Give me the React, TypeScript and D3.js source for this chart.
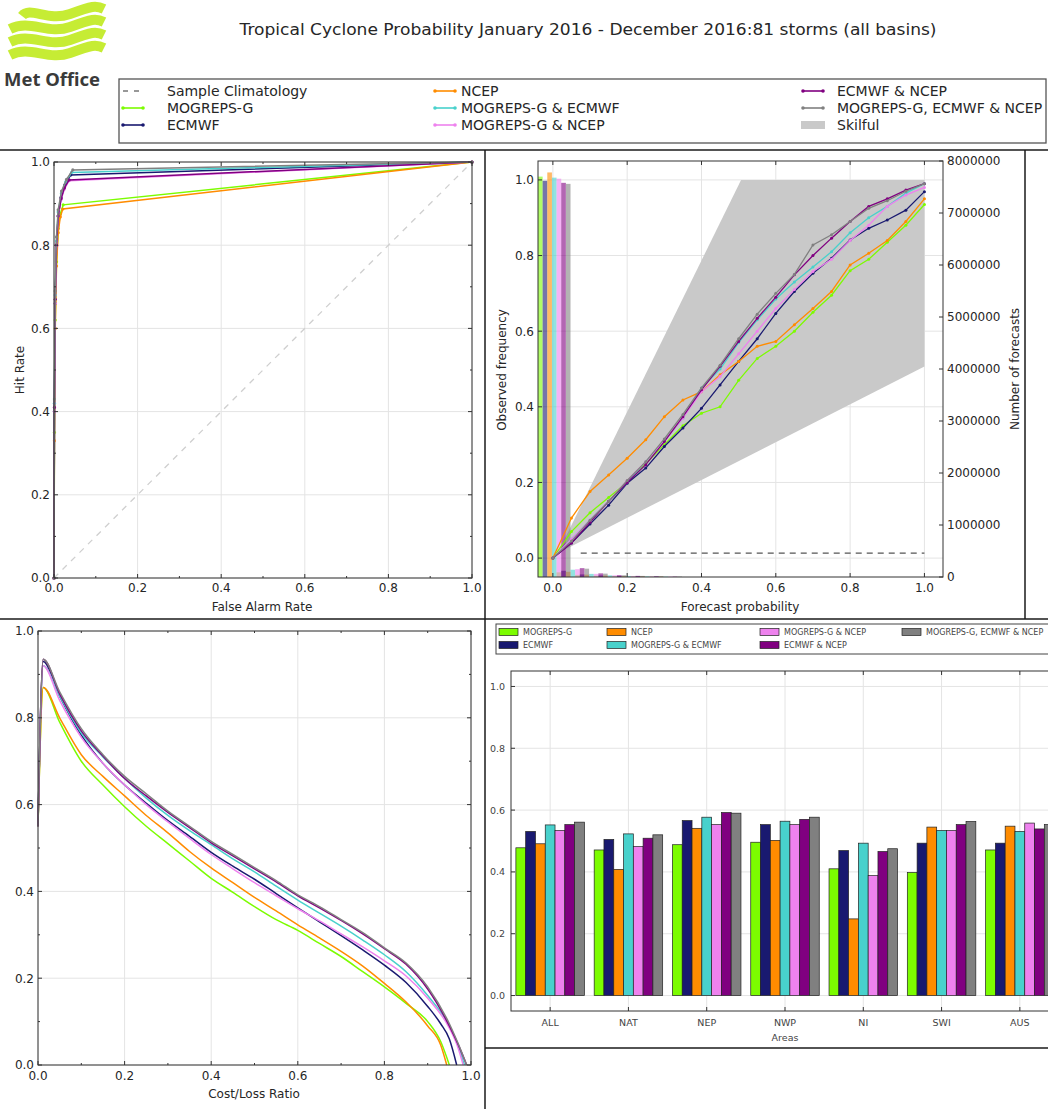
import React from "react";
import * as d3 from "d3";

const W = 1048;
const H = 1109;
const FONT = "DejaVu Sans, Verdana, sans-serif";
const TXT = "#262626";

const titleText = "Tropical Cyclone Probability January 2016 - December 2016:81 storms (all basins)";

const seriesNames = [
  "MOGREPS-G",
  "ECMWF",
  "NCEP",
  "MOGREPS-G & ECMWF",
  "MOGREPS-G & NCEP",
  "ECMWF & NCEP",
  "MOGREPS-G, ECMWF & NCEP",
];
const seriesColors = ["#7cfc00", "#191970", "#ff8c00", "#48d1cc", "#ee82ee", "#800080", "#808080"];

// ---------- ROC ----------
const rocFalseAlarm = [
  [0, 0.001, 0.003, 0.006, 0.01, 0.015, 0.022, 1],
  [0, 0.001, 0.003, 0.006, 0.01, 0.017, 0.026, 0.04, 1],
  [0, 0.001, 0.003, 0.006, 0.01, 0.015, 0.021, 1],
  [0, 0.001, 0.003, 0.006, 0.01, 0.018, 0.028, 0.042, 1],
  [0, 0.001, 0.003, 0.006, 0.01, 0.017, 0.025, 0.036, 1],
  [0, 0.001, 0.003, 0.006, 0.01, 0.017, 0.025, 0.036, 1],
  [0, 0.001, 0.003, 0.006, 0.01, 0.018, 0.03, 0.045, 1],
];
const rocHitRate = [
  [0, 0.35, 0.62, 0.76, 0.84, 0.875, 0.897, 1],
  [0, 0.4, 0.66, 0.8, 0.87, 0.915, 0.945, 0.969, 1],
  [0, 0.33, 0.6, 0.75, 0.83, 0.868, 0.887, 1],
  [0, 0.42, 0.68, 0.81, 0.88, 0.925, 0.952, 0.975, 1],
  [0, 0.4, 0.66, 0.8, 0.87, 0.91, 0.935, 0.955, 1],
  [0, 0.41, 0.67, 0.8, 0.87, 0.912, 0.938, 0.957, 1],
  [0, 0.43, 0.69, 0.82, 0.885, 0.93, 0.958, 0.981, 1],
];
const unitTicks = [0, 0.2, 0.4, 0.6, 0.8, 1.0];
const unitMinor = [0.1, 0.3, 0.5, 0.7, 0.9];

// ---------- Reliability ----------
const relProbability = [0, 0.05, 0.1, 0.15, 0.2, 0.25, 0.3, 0.35, 0.4, 0.45, 0.5, 0.55, 0.6, 0.65, 0.7, 0.75, 0.8, 0.85, 0.9, 0.95, 1.0];
const relObserved = [
  [0, 0.07, 0.12, 0.16, 0.2, 0.25, 0.3, 0.35, 0.383, 0.4, 0.47, 0.528, 0.56, 0.6, 0.65, 0.695, 0.76, 0.79, 0.835, 0.88, 0.935],
  [0, 0.04, 0.09, 0.14, 0.198, 0.238, 0.295, 0.344, 0.396, 0.458, 0.52, 0.58, 0.647, 0.705, 0.753, 0.793, 0.841, 0.872, 0.894, 0.92, 0.969],
  [0, 0.106, 0.176, 0.22, 0.264, 0.313, 0.374, 0.418, 0.44, 0.485, 0.52, 0.56, 0.573, 0.617, 0.66, 0.705, 0.775, 0.806, 0.84, 0.89, 0.95],
  [0, 0.05, 0.1, 0.15, 0.2, 0.255, 0.31, 0.37, 0.45, 0.5, 0.57, 0.63, 0.685, 0.73, 0.77, 0.81, 0.86, 0.9, 0.93, 0.965, 0.99],
  [0, 0.05, 0.1, 0.15, 0.205, 0.255, 0.31, 0.37, 0.44, 0.48, 0.54, 0.6, 0.66, 0.71, 0.758, 0.79, 0.84, 0.88, 0.93, 0.96, 0.98],
  [0, 0.04, 0.095, 0.15, 0.2, 0.247, 0.308, 0.374, 0.445, 0.507, 0.573, 0.634, 0.69, 0.749, 0.8, 0.846, 0.89, 0.93, 0.95, 0.973, 0.99],
  [0, 0.045, 0.1, 0.15, 0.205, 0.255, 0.315, 0.38, 0.45, 0.51, 0.58, 0.645, 0.7, 0.75, 0.828, 0.855, 0.89, 0.925, 0.945, 0.97, 0.99],
];
const sampleClimatology = 0.013;
const histBins = [0, 0.05, 0.1, 0.15, 0.2, 0.25, 0.3];
const histCounts = [
  [7700000, 90000, 40000, 25000, 15000, 10000, 6000],
  [7620000, 120000, 50000, 30000, 18000, 12000, 8000],
  [7780000, 100000, 45000, 28000, 16000, 11000, 7000],
  [7680000, 140000, 60000, 32000, 20000, 13000, 8000],
  [7660000, 150000, 60000, 33000, 20000, 13000, 8000],
  [7580000, 170000, 70000, 36000, 22000, 14000, 9000],
  [7560000, 160000, 65000, 34000, 21000, 13000, 8000],
];
const relXTicks = [0, 0.2, 0.4, 0.6, 0.8, 1.0];
const countTicks = [0, 1000000, 2000000, 3000000, 4000000, 5000000, 6000000, 7000000, 8000000];

// ---------- Cost / Loss ----------
const clRatio = [0, 0.012, 0.05, 0.1, 0.15, 0.2, 0.25, 0.3, 0.35, 0.4, 0.45, 0.5, 0.55, 0.6, 0.65, 0.7, 0.75, 0.8, 0.85, 0.9];
const clValue = [
  [0.55, 0.87, 0.79, 0.7, 0.645, 0.595, 0.55, 0.51, 0.47, 0.43, 0.398, 0.365, 0.335, 0.31, 0.28, 0.25, 0.215, 0.18, 0.142, 0.1],
  [0.55, 0.93, 0.85, 0.76, 0.695, 0.645, 0.603, 0.563, 0.527, 0.49, 0.458, 0.428, 0.395, 0.362, 0.33, 0.298, 0.265, 0.23, 0.19, 0.135],
  [0.55, 0.87, 0.8, 0.715, 0.665, 0.62, 0.575, 0.535, 0.492, 0.454, 0.42, 0.386, 0.355, 0.323, 0.293, 0.262, 0.228, 0.188, 0.145, 0.09],
  [0.55, 0.92, 0.85, 0.765, 0.71, 0.66, 0.615, 0.575, 0.54, 0.508, 0.475, 0.445, 0.412, 0.38, 0.35, 0.32, 0.288, 0.254, 0.215, 0.16],
  [0.55, 0.92, 0.84, 0.755, 0.695, 0.645, 0.6, 0.56, 0.522, 0.485, 0.452, 0.42, 0.39, 0.36, 0.332, 0.302, 0.272, 0.24, 0.205, 0.154],
  [0.55, 0.935, 0.855, 0.77, 0.712, 0.66, 0.62, 0.582, 0.547, 0.512, 0.482, 0.452, 0.422, 0.39, 0.362, 0.333, 0.302, 0.268, 0.232, 0.175],
  [0.55, 0.935, 0.86, 0.775, 0.715, 0.665, 0.625, 0.585, 0.55, 0.515, 0.485, 0.455, 0.425, 0.392, 0.365, 0.335, 0.305, 0.27, 0.235, 0.18],
];
const clTailRatio = [
  [0.93, 0.95],
  [0.93, 0.95, 0.967],
  [0.93, 0.944],
  [0.95, 0.97, 0.985],
  [0.95, 0.97, 0.982],
  [0.95, 0.97, 0.99],
  [0.95, 0.97, 0.99],
];
const clTailValue = [
  [0.054, 0],
  [0.095, 0.06, 0],
  [0.046, 0],
  [0.09, 0.045, 0],
  [0.085, 0.04, 0],
  [0.09, 0.048, 0],
  [0.095, 0.05, 0],
];

// ---------- Areas ----------
const areas = ["ALL", "NAT", "NEP", "NWP", "NI", "SWI", "AUS"];
const areaScores = [
  [0.478, 0.471, 0.488, 0.496, 0.41, 0.398, 0.471],
  [0.531, 0.505, 0.566, 0.553, 0.469, 0.493, 0.493],
  [0.491, 0.408, 0.541, 0.502, 0.248, 0.545, 0.548],
  [0.552, 0.523, 0.577, 0.564, 0.493, 0.534, 0.531],
  [0.534, 0.482, 0.553, 0.553, 0.388, 0.534, 0.558],
  [0.553, 0.509, 0.592, 0.57, 0.466, 0.553, 0.539],
  [0.561, 0.52, 0.59, 0.577, 0.475, 0.563, 0.553],
];
const barYTicks = [0, 0.2, 0.4, 0.6, 0.8, 1.0];

type Lin = d3.ScaleLinear<number, number>;

function grid(xs: Lin, ys: Lin, xt: number[], yt: number[], key: string) {
  const [l, r] = xs.range();
  const [b, t] = ys.range();
  return (
    <g key={key} stroke="#e4e4e4" strokeWidth={1}>
      {xt.map((v) => (
        <line key={"gx" + v} x1={xs(v)} x2={xs(v)} y1={t} y2={b} />
      ))}
      {yt.map((v) => (
        <line key={"gy" + v} x1={l} x2={r} y1={ys(v)} y2={ys(v)} />
      ))}
    </g>
  );
}

function frame(xs: Lin, ys: Lin, xt: number[], yt: number[], key: string, xm: number[] = [], ym: number[] = [], rightTicks = true) {
  const [l, r] = xs.range();
  const [b, t] = ys.range();
  const els: any[] = [];
  const add = (v: number, len: number, axis: "x" | "y") => {
    if (axis === "x") {
      const px = xs(v);
      els.push(<line key={"b" + v + len} x1={px} x2={px} y1={b} y2={b - len} />);
      els.push(<line key={"t" + v + len} x1={px} x2={px} y1={t} y2={t + len} />);
    } else {
      const py = ys(v);
      els.push(<line key={"l" + v + len} x1={l} x2={l + len} y1={py} y2={py} />);
      if (rightTicks) els.push(<line key={"r" + v + len} x1={r} x2={r - len} y1={py} y2={py} />);
    }
  };
  xt.forEach((v) => add(v, 4, "x"));
  yt.forEach((v) => add(v, 4, "y"));
  xm.forEach((v) => add(v, 2, "x"));
  ym.forEach((v) => add(v, 2, "y"));
  return (
    <g key={key} stroke="#333" strokeWidth={1} fill="none">
      {els}
      <rect x={l} y={t} width={r - l} height={b - t} />
    </g>
  );
}

function xLabels(xs: Lin, ticks: number[], y: number, size = 12, fmt = (v: number) => v.toFixed(1), fill = TXT) {
  return ticks.map((v) => (
    <text key={"xl" + v} x={xs(v)} y={y} textAnchor="middle" fontSize={size} fill={fill}>
      {fmt(v)}
    </text>
  ));
}
function yLabels(ys: Lin, ticks: number[], x: number, size = 12, anchor = "end", fmt = (v: number) => v.toFixed(1), fill = TXT) {
  return ticks.map((v) => (
    <text key={"yl" + v} x={x} y={ys(v)} dy="0.36em" textAnchor={anchor} fontSize={size} fill={fill}>
      {fmt(v)}
    </text>
  ));
}

export default function App() {
  // ROC
  const rocX = d3.scaleLinear().domain([0, 1]).range([54, 472]);
  const rocY = d3.scaleLinear().domain([0, 1]).range([578, 162]);
  // reliability
  const relX = d3.scaleLinear().domain([-0.04, 1.05]).range([538, 943]);
  const relY = d3.scaleLinear().domain([-0.05, 1.05]).range([577, 161]);
  const cntY = d3.scaleLinear().domain([0, 8000000]).range([577, 161]);
  // cost loss
  const clX = d3.scaleLinear().domain([0, 1]).range([38, 471]);
  const clY = d3.scaleLinear().domain([0, 1]).range([1065, 631]);
  // bars
  const barX = d3.scaleLinear().domain([-0.5, 6.5]).range([511, 1059]);
  const barY = d3.scaleLinear().domain([-0.05, 1.05]).range([1011, 671]);

  const rocLine = (i: number) =>
    d3.line<number>().x((d) => rocX(d)).y((_, j) => rocY(rocHitRate[i][j]))(rocFalseAlarm[i]) || "";
  const relLine = (i: number) =>
    d3.line<number>().x((d) => relX(d)).y((_, j) => relY(relObserved[i][j]))(relProbability) || "";
  const clLine = (i: number) => {
    const pts: [number, number][] = clRatio.map((r, j) => [r, clValue[i][j]]);
    clTailRatio[i].forEach((r, j) => pts.push([r, clTailValue[i][j]]));
    return d3.line<[number, number]>().x((d) => clX(d[0])).y((d) => clY(d[1])).curve(d3.curveMonotoneX)(pts) || "";
  };

  const skillPoly: [number, number][] = [
    [sampleClimatology, sampleClimatology],
    [0.5 + sampleClimatology / 2, 1],
    [1, 1],
    [1, (1 + sampleClimatology) / 2],
  ];
  const skillPath = d3.line<[number, number]>().x((d) => relX(d[0])).y((d) => relY(d[1]))(skillPoly) + "Z";

  const histW = 0.0125;
  const barW = 1 / 8;

  const legendCols = [
    { x: 123, tx: 167, items: [-1, 0, 1] },
    { x: 435, tx: 461, items: [2, 3, 4] },
    { x: 803, tx: 837, items: [5, 6, -2] },
  ];
  const legendRows = [91, 108, 125];

  const barLegendCols = [
    { x: 499, items: [0, 1] },
    { x: 607, items: [2, 3] },
    { x: 760, items: [4, 5] },
    { x: 902, items: [6] },
  ];
  const barLegendRows = [632, 645];
  const BARTXT = "#444";

  return (
    <svg width={W} height={H} style={{ position: "absolute", left: 0, top: 0, display: "block", background: "#fff" }} fontFamily={FONT}>
      <rect x={0} y={0} width={W} height={H} fill="#fff" />
      {/* Logo */}
      <g fill="none" stroke="#c6ec34" strokeWidth={10}>
        {[0, 1, 2, 3].map((i) => {
          const b = 13 + i * 13;
          return (
            <path
              key={"rib" + i}
              d={`M${10 + (i === 0 ? 12 : 0)},${b + 3} C30,${b - 7} 48,${b + 9} 70,${b + 1} S96,${b - 8} 104,${b - 4}`}
            />
          );
        })}
      </g>
      <text x={4} y={86} fontFamily="Noto Sans, DejaVu Sans, sans-serif" fontWeight="bold" fontSize={17} fill="#3a3a3a" textLength={96} lengthAdjust="spacingAndGlyphs">
        Met Office
      </text>
      {/* Title */}
      <text x={588} y={35} textAnchor="middle" fontSize={16} fill={TXT} textLength={697} lengthAdjust="spacingAndGlyphs">
        {titleText}
      </text>

      {/* Top legend */}
      <rect x={119} y={79} width={927} height={64} fill="#fff" stroke="#555" strokeWidth={1.3} />
      {legendCols.map((c, ci) =>
        c.items.map((it, ri) => {
          const cy = legendRows[ri];
          let marker;
          let label;
          if (it === -1) {
            marker = <line x1={c.x} x2={c.x + 20} y1={cy} y2={cy} stroke="#777" strokeWidth={1.4} strokeDasharray="5,6" />;
            label = "Sample Climatology";
          } else if (it === -2) {
            marker = <rect x={c.x - 2} y={cy - 4} width={24} height={8} fill="#c9c9c9" />;
            label = "Skilful";
          } else {
            marker = (
              <g>
                <line x1={c.x} x2={c.x + 20} y1={cy} y2={cy} stroke={seriesColors[it]} strokeWidth={1.6} />
                <circle cx={c.x} cy={cy} r={1.8} fill={seriesColors[it]} />
                <circle cx={c.x + 20} cy={cy} r={1.8} fill={seriesColors[it]} />
              </g>
            );
            label = seriesNames[it];
          }
          return (
            <g key={"lg" + ci + ri}>
              {marker}
              <text x={c.tx} y={cy + 5} fontSize={14} fill={TXT}>
                {label}
              </text>
            </g>
          );
        })
      )}

      {/* Panel frames */}
      <g stroke="#1a1a1a" strokeWidth={1.5}>
        <line x1={0} x2={W} y1={150} y2={150} />
        <line x1={485} x2={485} y1={150} y2={H} />
        <line x1={0} x2={W} y1={619} y2={619} />
        <line x1={1025} x2={1025} y1={150} y2={619} />
        <line x1={485} x2={W} y1={1048} y2={1048} />
      </g>

      {/* ROC */}
      {grid(rocX, rocY, unitTicks, unitTicks, "rocgrid")}
      <line x1={rocX(0)} y1={rocY(0)} x2={rocX(1)} y2={rocY(1)} stroke="#cfcfcf" strokeWidth={1.3} strokeDasharray="6,6" />
      {seriesNames.map((_, i) => (
        <g key={"roc" + i}>
          <path d={rocLine(i)} fill="none" stroke={seriesColors[i]} strokeWidth={1.5} />
          {rocFalseAlarm[i].map((f, j) => (
            <circle key={j} cx={rocX(f)} cy={rocY(rocHitRate[i][j])} r={1.6} fill={seriesColors[i]} />
          ))}
        </g>
      ))}
      {frame(rocX, rocY, unitTicks, unitTicks, "rocframe", unitMinor, unitMinor)}
      {xLabels(rocX, unitTicks, 592)}
      {yLabels(rocY, unitTicks, 50)}
      <text x={262} y={611} textAnchor="middle" fontSize={12} fill={TXT}>
        False Alarm Rate
      </text>
      <text transform="translate(24,370) rotate(-90)" textAnchor="middle" fontSize={12} fill={TXT}>
        Hit Rate
      </text>

      {/* Reliability */}
      {grid(relX, relY, relXTicks, unitTicks, "relgrid")}
      <path d={skillPath} fill="#c9c9c9" />
      <line x1={relX(0.075)} x2={relX(1)} y1={relY(sampleClimatology)} y2={relY(sampleClimatology)} stroke="#555" strokeWidth={1.2} strokeDasharray="6,5" />
      {seriesNames.map((_, i) =>
        histBins.map((bin, j) => {
          const x0 = relX(bin - 0.04 + i * histW);
          const x1 = relX(bin - 0.04 + (i + 1) * histW);
          const yTop = cntY(histCounts[i][j]);
          return <rect key={"h" + i + "_" + j} x={x0} width={x1 - x0} y={yTop} height={cntY(0) - yTop} fill={seriesColors[i]} fillOpacity={0.6} />;
        })
      )}
      {seriesNames.map((_, i) => (
        <g key={"rel" + i}>
          <path d={relLine(i)} fill="none" stroke={seriesColors[i]} strokeWidth={1.3} />
          {relProbability.map((p, j) => (
            <circle key={j} cx={relX(p)} cy={relY(relObserved[i][j])} r={1.5} fill={seriesColors[i]} />
          ))}
        </g>
      ))}
      {frame(relX, relY, relXTicks, unitTicks, "relframe", [], [], false)}
      <g stroke="#333">
        {countTicks.map((c) => (
          <line key={"ct" + c} x1={943} x2={939} y1={cntY(c)} y2={cntY(c)} />
        ))}
      </g>
      {xLabels(relX, relXTicks, 592)}
      {yLabels(relY, unitTicks, 534)}
      {yLabels(cntY, countTicks, 947, 12, "start", (v) => String(v))}
      <text x={740} y={611} textAnchor="middle" fontSize={12} fill={TXT}>
        Forecast probability
      </text>
      <text transform="translate(506,370) rotate(-90)" textAnchor="middle" fontSize={12} fill={TXT}>
        Observed frequency
      </text>
      <text transform="translate(1019,369) rotate(-90)" textAnchor="middle" fontSize={12} fill={TXT}>
        Number of forecasts
      </text>

      {/* Cost / Loss */}
      {grid(clX, clY, unitTicks, unitTicks, "clgrid")}
      <g>
        {seriesNames.map((_, i) => (
          <path key={"cl" + i} d={clLine(i)} fill="none" stroke={seriesColors[i]} strokeWidth={1.5} />
        ))}
      </g>
      {frame(clX, clY, unitTicks, unitTicks, "clframe", unitMinor, unitMinor)}
      {xLabels(clX, unitTicks, 1080)}
      {yLabels(clY, unitTicks, 34)}
      <text x={254} y={1098} textAnchor="middle" fontSize={12} fill={TXT}>
        Cost/Loss Ratio
      </text>

      {/* Bar chart */}
      <g>
        {grid(barX, barY, areas.map((_, k) => k), barYTicks, "bargrid")}
        {seriesNames.map((_, i) =>
          areas.map((a, k) => {
            const x0 = barX(k - 0.4375 + i * barW);
            const x1 = barX(k - 0.4375 + (i + 1) * barW);
            const yTop = barY(areaScores[i][k]);
            return (
              <rect key={"b" + i + a} x={x0} width={x1 - x0} y={yTop} height={barY(0) - yTop} fill={seriesColors[i]} stroke="#222" strokeWidth={0.7} />
            );
          })
        )}
        {frame(barX, barY, areas.map((_, k) => k), barYTicks, "barframe", [], [], false)}
        {yLabels(barY, barYTicks, 505, 9.5, "end", (v) => v.toFixed(1), BARTXT)}
        {areas.map((a, k) => (
          <text key={"al" + a} x={barX(k)} y={1026} textAnchor="middle" fontSize={9.5} fill={BARTXT}>
            {a}
          </text>
        ))}
        <text x={785} y={1041} textAnchor="middle" fontSize={9.5} fill={BARTXT}>
          Areas
        </text>
        {/* bar legend */}
        <rect x={496} y={624} width={560} height={30} fill="#fff" stroke="#444" strokeWidth={1} />
        {barLegendCols.map((c, ci) =>
          c.items.map((it, ri) => (
            <g key={"bl" + ci + ri}>
              <rect x={c.x} y={barLegendRows[ri] - 3.5} width={19} height={7} fill={seriesColors[it]} stroke="#222" strokeWidth={0.7} />
              <text x={c.x + 24} y={barLegendRows[ri] + 3} fontSize={8} fill={BARTXT}>
                {seriesNames[it]}
              </text>
            </g>
          ))
        )}
      </g>
    </svg>
  );
}
